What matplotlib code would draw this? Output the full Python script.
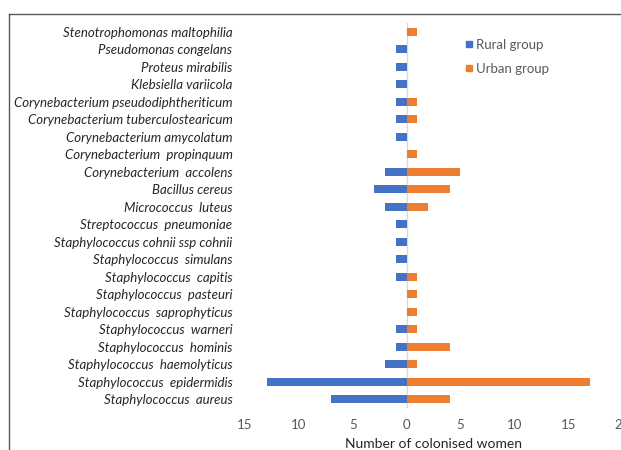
import matplotlib
matplotlib.use("Agg")
import matplotlib.pyplot as plt
import numpy as np
from matplotlib.lines import Line2D

species = [
    "Stenotrophomonas maltophilia",
    "Pseudomonas congelans",
    "Proteus mirabilis",
    "Klebsiella variicola",
    "Corynebacterium pseudodiphtheriticum",
    "Corynebacterium tuberculostearicum",
    "Corynebacterium amycolatum",
    "Corynebacterium  propinquum",
    "Corynebacterium  accolens",
    "Bacillus cereus",
    "Micrococcus  luteus",
    "Streptococcus  pneumoniae",
    "Staphylococcus cohnii ssp cohnii",
    "Staphylococcus  simulans",
    "Staphylococcus  capitis",
    "Staphylococcus  pasteuri",
    "Staphylococcus  saprophyticus",
    "Staphylococcus  warneri",
    "Staphylococcus  hominis",
    "Staphylococcus  haemolyticus",
    "Staphylococcus  epidermidis",
    "Staphylococcus  aureus",
]
rural = [0, 1, 1, 1, 1, 1, 1, 0, 2, 3, 2, 1, 1, 1, 1, 0, 0, 1, 1, 2, 13, 7]
urban = [1, 0, 0, 0, 1, 1, 0, 1, 5, 4, 2, 0, 0, 0, 1, 1, 1, 1, 4, 1, 17, 4]
xticks = [-15, -10, -5, 0, 5, 10, 15, 20]
xticklabels = ["15", "10", "5", "0", "5", "10", "15", "20"]

blue = "#4472C4"
orange = "#ED7D31"
grey_text = "#595959"

fig = plt.figure(figsize=(6.21, 4.5), dpi=100)
ax = fig.add_axes([245/621, 42/450, 377/621, 385/450])

y = np.arange(len(species))
h = 0.45
ax.barh(y, [-v for v in rural], height=h, color=blue, label="Rural group", zorder=2)
ax.barh(y, urban, height=h, color=orange, label="Urban group", zorder=2)

ax.set_xlim(-15, 20)
ax.set_ylim(len(species) - 0.5, -0.5)
ax.axvline(0, color="#d9d9d9", lw=1.0, zorder=1)

for s in ax.spines.values():
    s.set_visible(False)

ax.set_xticks(xticks)
ax.set_xticklabels(xticklabels, fontsize=9.5, color=grey_text, family="Lato")
ax.set_yticks(y)
ax.set_yticklabels(species, fontsize=9.5, color="#262626", family="Lato", style="italic")
ax.tick_params(axis="both", length=0)
ax.tick_params(axis="y", pad=9)
ax.tick_params(axis="x", pad=8)
ax.set_xlabel("Number of colonised women", fontsize=10, color="#262626", family="Lato", labelpad=5)

handles = [Line2D([], [], marker="s", ls="", color=blue, markersize=5),
           Line2D([], [], marker="s", ls="", color=orange, markersize=5)]
leg = ax.legend(handles, ["Rural group", "Urban group"], loc="upper left",
                bbox_to_anchor=((458-245)/377, (408-35)/385), frameon=False,
                labelspacing=0.9, handletextpad=0.05, handlelength=1.0,
                borderaxespad=0, borderpad=0.3,
                prop={"family": "Lato", "size": 9.5})
for t in leg.get_texts():
    t.set_color(grey_text)

# figure border (cropped chart area)
fig.add_artist(Line2D([9/621, 1.0], [1 - 13.5/450, 1 - 13.5/450], color="#595959", lw=1.0))
fig.add_artist(Line2D([9/621, 9/621], [0, 1 - 13.5/450], color="#595959", lw=1.0))

fig.savefig("out.png", dpi=100)
